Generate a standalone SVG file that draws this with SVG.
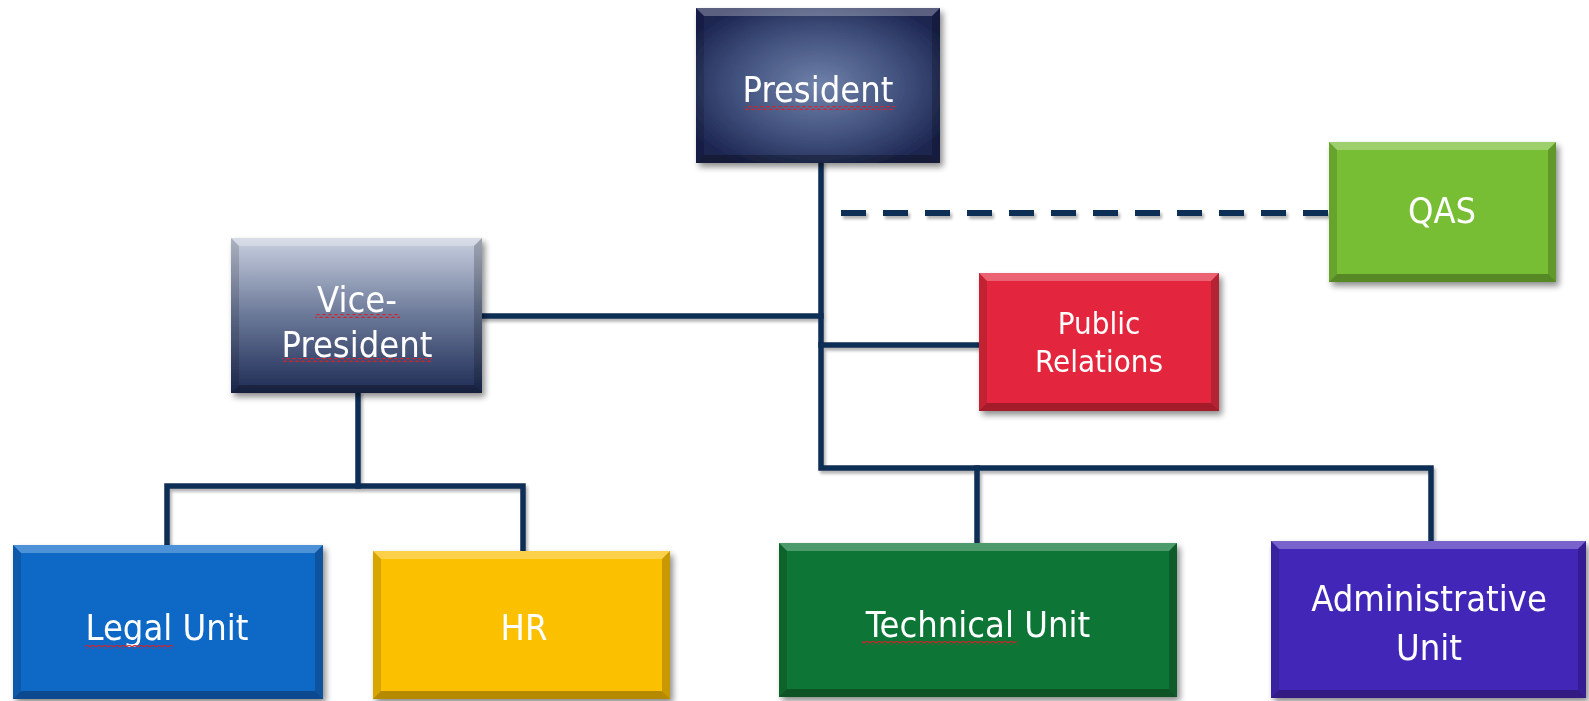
<svg xmlns="http://www.w3.org/2000/svg" width="1589" height="701" viewBox="0 0 1589 701">
<defs>
<radialGradient id="gPres" cx="0.5" cy="0.5" r="0.6">
<stop offset="0" stop-color="#6f82aa"/>
<stop offset="0.6" stop-color="#3e4e7a"/>
<stop offset="1" stop-color="#1c2550"/>
</radialGradient>
<linearGradient id="gVP" x1="0" y1="0" x2="0" y2="1">
<stop offset="0" stop-color="#c9d0e0"/>
<stop offset="0.5" stop-color="#6a7898"/>
<stop offset="1" stop-color="#1e2c55"/>
</linearGradient>
<filter id="sh" x="-10%" y="-10%" width="125%" height="125%">
<feGaussianBlur in="SourceAlpha" stdDeviation="3"/>
<feOffset dx="3" dy="4" result="b"/>
<feComponentTransfer><feFuncA type="linear" slope="0.45"/></feComponentTransfer>
<feMerge><feMergeNode/><feMergeNode in="SourceGraphic"/></feMerge>
</filter>
<filter id="lsh" x="-5%" y="-5%" width="110%" height="110%">
<feGaussianBlur in="SourceAlpha" stdDeviation="1.5"/>
<feOffset dx="2" dy="3"/>
<feComponentTransfer><feFuncA type="linear" slope="0.3"/></feComponentTransfer>
<feMerge><feMergeNode/><feMergeNode in="SourceGraphic"/></feMerge>
</filter>
<pattern id="wave" width="6" height="4" patternUnits="userSpaceOnUse">
<path d="M0,3 L3,1 L6,3" fill="none" stroke="#d2232a" stroke-width="1.1"/>
</pattern>
</defs>
<style>
.ln{fill:none;stroke:#0d2d55;stroke-width:5.5;stroke-linecap:square;stroke-linejoin:miter}
.dash{fill:none;stroke:#0d2d55;stroke-width:6;stroke-dasharray:25 17}
.t{font-family:"DejaVu Sans Condensed","DejaVu Sans",sans-serif;font-stretch:condensed;fill:#ffffff;text-anchor:middle;font-size:36px}
.ts{font-size:31px}
.hi{fill:#ffffff;fill-opacity:0.28}
.lo{fill:#000000;fill-opacity:0.28}
.sd{fill:#000000;fill-opacity:0.14}
.sr{fill:#000000;fill-opacity:0.2}
</style>
<rect width="1589" height="701" fill="#ffffff"/>

<g id="connectors" filter="url(#lsh)">
<path class="ln" d="M821,163 V468 H1431 V541"/>
<path class="ln" d="M977,468 V543"/>
<path class="ln" d="M482,316 H821"/>
<path class="ln" d="M821,345 H979"/>
<path class="dash" d="M841,213 H1329"/>
<path class="ln" d="M358,393 V486"/>
<path class="ln" d="M167,545 V486 H523 V551"/>
</g>

<g id="president" filter="url(#sh)">
<rect x="696" y="8" width="244" height="155" fill="url(#gPres)"/>
<polygon class="hi" points="696,8 940,8 932,16 704,16"/>
<polygon class="lo" points="696,163 940,163 932,155 704,155"/>
<polygon class="sd" points="696,8 704,16 704,155 696,163"/>
<polygon class="sr" points="940,8 932,16 932,155 940,163"/>
<text class="t" x="818" y="102">President</text>
<rect x="745" y="106" width="150" height="4" fill="url(#wave)"/>
</g>

<g id="vice-president" filter="url(#sh)">
<rect x="231" y="238" width="251" height="155" fill="url(#gVP)"/>
<polygon class="hi" points="231,238 482,238 474,246 239,246"/>
<polygon class="lo" points="231,393 482,393 474,385 239,385"/>
<polygon class="sd" points="231,238 239,246 239,385 231,393"/>
<polygon class="sr" points="482,238 474,246 474,385 482,393"/>
<text class="t" x="357" y="312">Vice-</text>
<text class="t" x="357" y="357">President</text>
<rect x="315" y="314" width="85" height="4" fill="url(#wave)"/>
<rect x="282" y="358" width="150" height="4" fill="url(#wave)"/>
</g>

<g id="qas" filter="url(#sh)">
<rect x="1329" y="142" width="227" height="140" fill="#78be35"/>
<polygon class="hi" points="1329,142 1556,142 1548,150 1337,150"/>
<polygon class="lo" points="1329,282 1556,282 1548,274 1337,274"/>
<polygon class="sd" points="1329,142 1337,150 1337,274 1329,282"/>
<polygon class="sr" points="1556,142 1548,150 1548,274 1556,282"/>
<text class="t" x="1442" y="223">QAS</text>
</g>

<g id="public-relations" filter="url(#sh)">
<rect x="979" y="273" width="240" height="138" fill="#e3283c"/>
<polygon class="hi" points="979,273 1219,273 1211,281 987,281"/>
<polygon class="lo" points="979,411 1219,411 1211,403 987,403"/>
<polygon class="sd" points="979,273 987,281 987,403 979,411"/>
<polygon class="sr" points="1219,273 1211,281 1211,403 1219,411"/>
<text class="t ts" x="1099" y="334">Public</text>
<text class="t ts" x="1099" y="372">Relations</text>
</g>

<g id="legal-unit" filter="url(#sh)">
<rect x="13" y="545" width="310" height="154" fill="#0b67c6"/>
<polygon class="hi" points="13,545 323,545 315,553 21,553"/>
<polygon class="lo" points="13,699 323,699 315,691 21,691"/>
<polygon class="sd" points="13,545 21,553 21,691 13,699"/>
<polygon class="sr" points="323,545 315,553 315,691 323,699"/>
<text class="t" x="167" y="640">Legal Unit</text>
<rect x="85" y="645" width="88" height="4" fill="url(#wave)"/>
</g>

<g id="hr" filter="url(#sh)">
<rect x="373" y="551" width="297" height="148" fill="#fbc005"/>
<polygon class="hi" points="373,551 670,551 662,559 381,559"/>
<polygon class="lo" points="373,699 670,699 662,691 381,691"/>
<polygon class="sd" points="373,551 381,559 381,691 373,699"/>
<polygon class="sr" points="670,551 662,559 662,691 670,699"/>
<text class="t" x="524" y="640">HR</text>
</g>

<g id="technical-unit" filter="url(#sh)">
<rect x="779" y="543" width="398" height="154" fill="#0a7434"/>
<polygon class="hi" points="779,543 1177,543 1169,551 787,551"/>
<polygon class="lo" points="779,697 1177,697 1169,689 787,689"/>
<polygon class="sd" points="779,543 787,551 787,689 779,697"/>
<polygon class="sr" points="1177,543 1169,551 1169,689 1177,697"/>
<text class="t" x="978" y="637">Technical Unit</text>
<rect x="862" y="641" width="155" height="4" fill="url(#wave)"/>
</g>

<g id="administrative-unit" filter="url(#sh)">
<rect x="1271" y="541" width="315" height="157" fill="#4327b8"/>
<polygon class="hi" points="1271,541 1586,541 1578,549 1279,549"/>
<polygon class="lo" points="1271,698 1586,698 1578,690 1279,690"/>
<polygon class="sd" points="1271,541 1279,549 1279,690 1271,698"/>
<polygon class="sr" points="1586,541 1578,549 1578,690 1586,698"/>
<text class="t" x="1429" y="611">Administrative</text>
<text class="t" x="1429" y="660">Unit</text>
</g>
</svg>
